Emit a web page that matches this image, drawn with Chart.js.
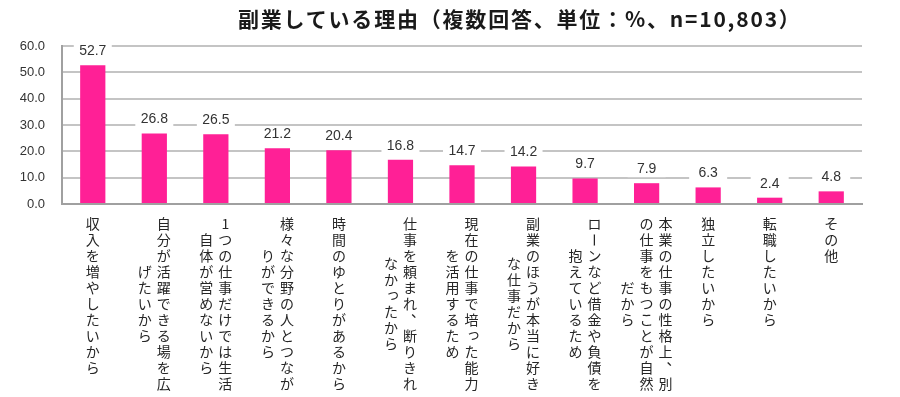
<!DOCTYPE html>
<html>
<head>
<meta charset="utf-8">
<script src="https://cdn.jsdelivr.net/npm/chart.js@4/dist/chart.umd.min.js"></script>
<style>
  body { margin: 0; background: #fff; }
  #wrap { position: relative; width: 900px; height: 397px; }
  #title {
    position: absolute; left: 238px; top: 3px;
    font: bold 21px "Noto Sans CJK JP", sans-serif; color: #1a1a1a;
    letter-spacing: 1.8px; white-space: nowrap;
  }
  canvas { position: absolute; left: 0; top: 0; }
</style>
</head>
<body>
<div id="wrap">
  <canvas id="reasonChart" width="900" height="397"></canvas>
  <div id="title">副業している理由（複数回答、単位：%、n=10,803）</div>
</div>
<script>
// each label is a list of vertical columns, read right to left
const reasons = [
  ['収入を増やしたいから'],
  ['自分が活躍できる場を広', 'げたいから'],
  ['1つの仕事だけでは生活', '自体が営めないから'],
  ['様々な分野の人とつなが', 'りができるから'],
  ['時間のゆとりがあるから'],
  ['仕事を頼まれ、断りきれ', 'なかったから'],
  ['現在の仕事で培った能力', 'を活用するため'],
  ['副業のほうが本当に好き', 'な仕事だから'],
  ['ローンなど借金や負債を', '抱えているため'],
  ['本業の仕事の性格上、別', 'の仕事をもつことが自然', 'だから'],
  ['独立したいから'],
  ['転職したいから'],
  ['その他'],
];
const shares = [52.7, 26.8, 26.5, 21.2, 20.4, 16.8, 14.7, 14.2, 9.7, 7.9, 6.3, 2.4, 4.8];
const yTicks = [0, 10, 20, 30, 40, 50, 60];

const smallKana = 'っゃゅょぁぃぅぇぉッャュョァィゥェォ';

// value boxes above the bars, white so they cut the grid lines
const valueLabels = {
  id: 'valueLabels',
  afterDatasetsDraw(chart) {
    const ctx = chart.ctx;
    const meta = chart.getDatasetMeta(0);
    ctx.save();
    ctx.font = '14px "Liberation Sans", Arial, sans-serif';
    ctx.textAlign = 'center';
    ctx.textBaseline = 'middle';
    meta.data.forEach((bar, i) => {
      const y = bar.y - 14;
      ctx.fillStyle = '#fff';
      ctx.fillRect(bar.x - 19, y - 8, 38, 16);
      ctx.fillStyle = '#333';
      ctx.fillText(shares[i].toFixed(1), bar.x, y);
    });
    ctx.restore();
  }
};

// vertical japanese category labels under the x axis
const verticalLabels = {
  id: 'verticalLabels',
  afterDraw(chart) {
    const ctx = chart.ctx;
    const xs = chart.scales.x;
    const top = chart.chartArea.bottom + 20;
    const step = 16;
    const colGap = 19;
    ctx.save();
    ctx.font = '14px "Noto Sans CJK JP", sans-serif';
    ctx.fillStyle = '#262626';
    ctx.textAlign = 'center';
    ctx.textBaseline = 'middle';
    reasons.forEach((cols, i) => {
      const cx = xs.getPixelForValue(i);
      const longest = Math.max(...cols.map(c => c.length));
      cols.forEach((col, j) => {
        const x = cx + ((cols.length - 1) / 2 - j) * colGap;
        const y0 = top + (longest - col.length) / 2 * step;
        [...col].forEach((ch, k) => {
          const y = y0 + k * step;
          if (ch === 'ー') {
            ctx.save();
            ctx.translate(x, y);
            ctx.rotate(Math.PI / 2);
            ctx.fillText(ch, 0, 0);
            ctx.restore();
          } else if (ch === '、') {
            ctx.fillText(ch, x + 8, y - 8);
          } else if (smallKana.includes(ch)) {
            ctx.fillText(ch, x + 2, y - 2);
          } else {
            ctx.fillText(ch, x, y);
          }
        });
      });
    });
    ctx.restore();
  }
};

new Chart(document.getElementById('reasonChart'), {
  type: 'bar',
  data: {
    labels: reasons.map(r => r.join('')),
    datasets: [{
      data: shares,
      backgroundColor: '#ff2096',
      categoryPercentage: 1,
      barPercentage: 0.41,
    }],
  },
  options: {
    responsive: false,
    animation: false,
    layout: { padding: { top: 46, right: 38, left: 0, bottom: 0 } },
    plugins: {
      legend: { display: false },
      tooltip: { enabled: false },
    },
    scales: {
      x: {
        grid: { display: false },
        border: { color: '#a0a0a0', width: 2 },
        ticks: { display: false },
        afterFit: (scale) => { scale.height = 193; },
      },
      y: {
        min: 0,
        max: 60,
        afterBuildTicks: (scale) => { scale.ticks = yTicks.map(v => ({ value: v })); },
        afterFit: (scale) => { scale.width = 62; },
        grid: { color: '#c4c4c4', lineWidth: 2, drawTicks: false },
        border: { color: '#a0a0a0', width: 2 },
        ticks: {
          padding: 17,
          color: '#333',
          font: { family: '"Liberation Sans", Arial, sans-serif', size: 13 },
          callback: (v) => v.toFixed(1),
        },
      },
    },
  },
  plugins: [valueLabels, verticalLabels],
});
</script>
</body>
</html>
